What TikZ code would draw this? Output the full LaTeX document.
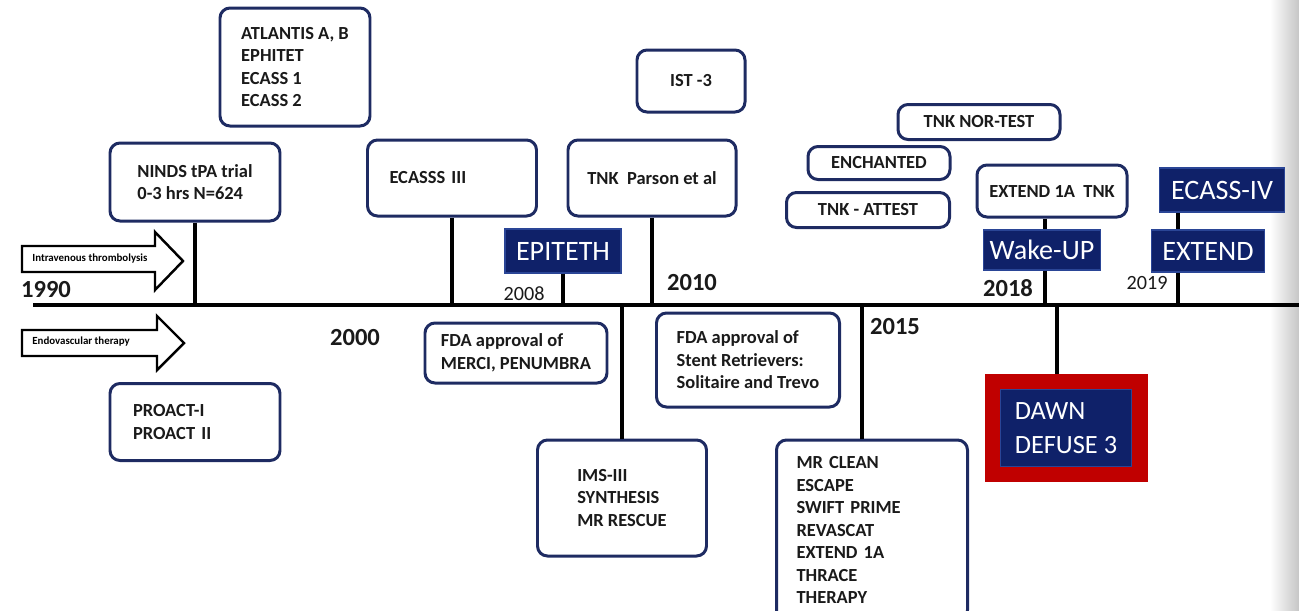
\documentclass[tikz,border=0pt]{standalone}
\usepackage{fontspec}
\setmainfont{Carlito}
\usepackage{xcolor}
\usepackage{tikz}
\usetikzlibrary{positioning, calc}

\definecolor{boxline}{HTML}{1E2B62}
\definecolor{navyfill}{HTML}{0F2169}
\definecolor{navyrim}{HTML}{2A4596}
\definecolor{dawnred}{HTML}{C00000}
\definecolor{inktext}{HTML}{1A1A1A}
\newcommand{\pxl}{0.02cm}

\begin{document}
\begin{tikzpicture}[
    x=0.02cm, y=-0.02cm,
    trial/.style={draw=boxline, line width=1.7pt, rounded corners=0.2cm, fill=white, text=inktext,
        align=left, inner sep=0pt, font=\fontsize{10.5}{12.8}\selectfont\bfseries},
    landmark/.style={draw=navyrim, line width=0.6pt, fill=navyfill, text=white, inner sep=0pt,
        font=\fontsize{16}{19}\selectfont},
    stem/.style={line width=2pt},
    yearbold/.style={font=\fontsize{14}{16}\selectfont\bfseries, text=inktext, inner sep=0pt},
    yearthin/.style={font=\fontsize{11.5}{13}\selectfont, text=inktext, inner sep=0pt},
    bigarrow/.style={draw=black, line width=1.4pt, fill=white, line join=miter},
    arrowtext/.style={font=\fontsize{6.2}{7}\selectfont\bfseries, anchor=west, inner sep=0pt}
]
\useasboundingbox (0,0) rectangle (1299,610);
\clip (0,0) rectangle (1299,610);

% === slide edge ===
\shade[left color=white, right color=gray!45] (1270,0) rectangle (1299,610);

% === time axis ===
\coordinate (axL) at (33,305);
\coordinate (axR) at (1299,305);
\draw[line width=2.4pt] (axL) -- (axR);

% === block arrows ===
\draw[bigarrow] (22,246) -- (155,246) -- (155,232) -- (183,261) -- (155,290) -- (155,272) -- (22,272) -- cycle;
\node[arrowtext] (ivt) at (32,259) {Intravenous thrombolysis};
\draw[bigarrow] (22,330) -- (157,330) -- (157,316) -- (184,343) -- (157,370) -- (157,356) -- (22,356) -- cycle;
\node[arrowtext] (evt) at (32,342) {Endovascular therapy};

% === years ===
\node[yearbold] (y1990) at (46,290) {1990};
\node[yearbold] (y2000) at (355,338) {2000};
\node[yearthin] (y2008) at (524,294) {2008};
\node[yearbold] (y2010) at (692,283) {2010};
\node[yearbold] (y2015) at (895,327) {2015};
\node[yearbold] (y2018) at (1008,288) {2018};
\node[yearthin] (y2019) at (1147,283) {2019};

% === trials above the axis ===
\node[trial, minimum width=170*\pxl, minimum height=78*\pxl] (ninds) at (195,182) {NINDS tPA trial\\0-3 hrs N=624};
\node[trial, minimum width=150*\pxl, minimum height=118*\pxl] (atlantis) at (295,67) {ATLANTIS A, B\\EPHITET\\ECASS 1\\ECASS 2};
\node[trial, inner xsep=22*\pxl, text width=125*\pxl, minimum height=76*\pxl] (ecass3) at (452,178) {ECASSS III};
\node[landmark, minimum width=116*\pxl, minimum height=44*\pxl] (epiteth) at (563,251) {EPITETH};
\node[trial, minimum width=168*\pxl, minimum height=76*\pxl] (parson) at (652,178) {TNK~~Parson et al};
\node[trial, minimum width=108*\pxl, minimum height=62*\pxl] (ist) at (691,81) {IST -3};
\node[trial, minimum width=162*\pxl, minimum height=35*\pxl] (nortest) at (979,122) {TNK NOR-TEST};
\node[trial, minimum width=142*\pxl, minimum height=33*\pxl] (enchanted) at (879,163) {ENCHANTED};
\node[trial, minimum width=163*\pxl, minimum height=35*\pxl] (attest) at (868,210) {TNK - ATTEST};
\node[trial, minimum width=150*\pxl, minimum height=52*\pxl] (extendtnk) at (1052,191) {EXTEND 1A~~TNK};
\node[landmark, minimum width=117*\pxl, minimum height=40*\pxl] (wakeup) at (1042,250) {Wake-UP};
\node[landmark, minimum width=125*\pxl, minimum height=44*\pxl] (ecass4) at (1222,190) {ECASS-IV};
\node[landmark, minimum width=113*\pxl, minimum height=42*\pxl] (extend) at (1208,251) {EXTEND};

% === trials below the axis ===
\node[trial, inner xsep=23*\pxl, text width=124*\pxl, minimum height=77*\pxl] (proact) at (195,422) {PROACT-I\\PROACT II};
\node[trial, minimum width=182*\pxl, minimum height=60*\pxl] (merci) at (516,353) {FDA approval of\\MERCI, PENUMBRA};
\node[trial, minimum width=169*\pxl, minimum height=116*\pxl] (ims) at (622,498) {IMS-III\\SYNTHESIS\\MR RESCUE};
\node[trial, minimum width=183*\pxl, minimum height=94*\pxl] (stent) at (748,360) {FDA approval of\\Stent Retrievers:\\Solitaire and Trevo};
\node[trial, inner xsep=20*\pxl, text width=151*\pxl, minimum height=180*\pxl] (mrclean) at (872,530)
    {MR CLEAN\\ESCAPE\\SWIFT PRIME\\REVASCAT\\EXTEND 1A\\THRACE\\THERAPY};
\node[fill=dawnred, minimum width=163*\pxl, minimum height=108*\pxl, inner sep=0pt] (dawnframe) at (1066,428) {};
\node[landmark, align=left, minimum width=131*\pxl, minimum height=77*\pxl,
    font=\fontsize{15}{19}\selectfont] (dawn) at (dawnframe.center) {DAWN\\DEFUSE 3};

% === stems ===
\coordinate (t2015) at (862,305);
\coordinate (t2018) at (1045,305);
\coordinate (tdawn) at (1057,305);
\coordinate (t2019) at (1178,305);
\draw[stem] (ninds.south) -- (ninds.south |- axL);
\draw[stem] (ecass3.south) -- (ecass3.south |- axL);
\draw[stem] (epiteth.south) -- (epiteth.south |- axL);
\draw[stem] (parson.south) -- (parson.south |- axL);
\draw[stem] (ims.north) -- (ims.north |- axL);
\draw[stem] (t2015) -- (t2015 |- mrclean.north);
\draw[stem] (t2018 |- extendtnk.south) -- (t2018 |- wakeup.north);
\draw[stem] (t2018 |- wakeup.south) -- (t2018);
\draw[stem] (tdawn) -- (tdawn |- dawnframe.north);
\draw[stem] (t2019 |- ecass4.south) -- (t2019 |- extend.north);
\draw[stem] (t2019 |- extend.south) -- (t2019);

\end{tikzpicture}
\end{document}
